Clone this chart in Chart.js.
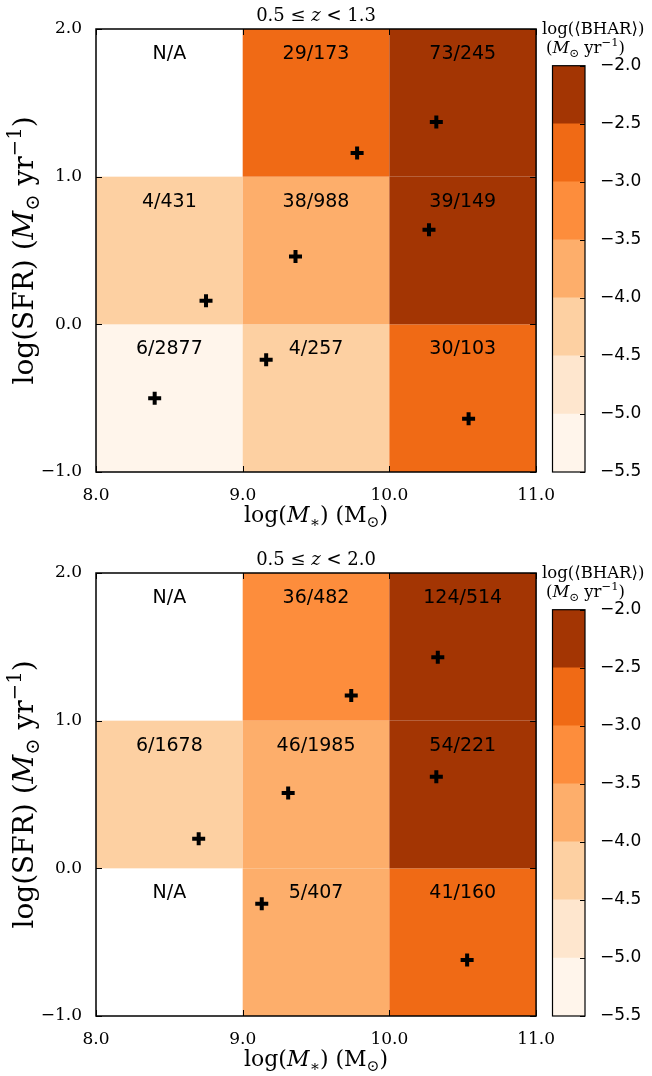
<!DOCTYPE html>
<html>
<head>
<meta charset="utf-8">
<script src="https://cdn.jsdelivr.net/npm/chart.js@4/dist/chart.umd.min.js"></script>
<style>
  html, body { margin: 0; padding: 0; background: #fff; }
  #wrap { position: relative; width: 652px; height: 1076px; }
  .panel { position: absolute; left: 0; width: 652px; height: 532px; }
  .panel canvas { position: absolute; top: 0; }
</style>
</head>
<body>
<div id="wrap">
  <div class="panel" style="top:0px">
    <canvas id="mainLow" width="560" height="532" style="left:0px"></canvas>
    <canvas id="cbLow" width="114" height="532" style="left:538px"></canvas>
  </div>
  <div class="panel" style="top:544px">
    <canvas id="mainAll" width="560" height="532" style="left:0px"></canvas>
    <canvas id="cbAll" width="114" height="532" style="left:538px"></canvas>
  </div>
</div>
<script>
// bin edges (log M*, log SFR) and colour levels of log<BHAR>
const massEdges = [8, 9, 10, 11];
const sfrEdges = [-1, 0, 1, 2];
const bharLevels = [-5.5, -5.0, -4.5, -4.0, -3.5, -3.0, -2.5, -2.0];
const levelColors = ['#fff5eb', '#fee6ce', '#fdd0a2', '#fdae6b', '#fd8d3c', '#f06a15', '#a33503'];

// 0.5 <= z < 1.3 ; rows go from low SFR (bottom) to high SFR (top)
const bharLowZ = [
  [-5.25, -4.25, -2.75],
  [-4.25, -3.75, -2.25],
  [null, -2.75, -2.25]
];
const countsLowZ = [
  ['6/2877', '4/257', '30/103'],
  ['4/431', '38/988', '39/149'],
  ['N/A', '29/173', '73/245']
];
const massLowZ = [8.40, 8.75, 9.16, 9.36, 9.78, 10.27, 10.32, 10.54];
const sfrLowZ = [-0.50, 0.16, -0.24, 0.46, 1.16, 0.64, 1.37, -0.64];

// 0.5 <= z < 2.0
const bharAllZ = [
  [null, -3.75, -2.75],
  [-4.25, -3.75, -2.25],
  [null, -3.25, -2.25]
];
const countsAllZ = [
  ['N/A', '5/407', '41/160'],
  ['6/1678', '46/1985', '54/221'],
  ['N/A', '36/482', '124/514']
];
const massAllZ = [8.70, 9.13, 9.31, 9.74, 10.32, 10.33, 10.53];
const sfrAllZ = [0.20, -0.24, 0.51, 1.17, 0.62, 1.43, -0.62];

const SERIF = '"DejaVu Serif", "Liberation Serif", serif';
const SANS = '"DejaVu Sans", sans-serif';

const fmt = v => Number(v).toFixed(1).replace('-', '\u2212');

function colorFor(v) {
  for (let i = 0; i < levelColors.length; i++) {
    if (v >= bharLevels[i] && v < bharLevels[i + 1]) return levelColors[i];
  }
  return levelColors[levelColors.length - 1];
}

// text with italic / sub / sup pieces
function drawRich(ctx, parts, x, y, size, align) {
  let total = 0;
  const items = parts.map(([t, s]) => {
    const fs = (s === 'sub' || s === 'sup') ? size * 0.7 : size;
    const font = (s === 'i' ? 'italic ' : '') + fs + 'px ' + SERIF;
    ctx.font = font;
    const w = ctx.measureText(t).width;
    total += w;
    return { t, s, font, w };
  });
  let cx = align === 'center' ? x - total / 2 : x;
  ctx.textAlign = 'left';
  ctx.textBaseline = 'alphabetic';
  ctx.fillStyle = '#000';
  items.forEach(it => {
    ctx.font = it.font;
    const dy = it.s === 'sub' ? size * 0.22 : it.s === 'sup' ? -size * 0.42 : 0;
    ctx.fillText(it.t, cx, y + dy);
    cx += it.w;
  });
}

const xLabel = [['log(', ''], ['M', 'i'], ['\u2217', 'sub'], [') (M', ''], ['\u2299', 'sub'], [')', '']];
const yLabel = [['log(SFR) (', ''], ['M', 'i'], ['\u2299', 'sub'], [' yr', ''], ['\u22121', 'sup'], [')', '']];
const cbLine1 = [['log(\u27e8BHAR\u27e9)', '']];
const cbLine2 = [['(', ''], ['M', 'i'], ['\u2299', 'sub'], [' yr', ''], ['\u22121', 'sup'], [')', '']];

const heatPlugin = {
  id: 'heat',
  beforeDatasetsDraw(chart, args, opts) {
    const { ctx, scales: { x, y } } = chart;
    ctx.save();
    opts.bhar.forEach((row, i) => {
      row.forEach((v, j) => {
        if (v === null) return;
        const x0 = x.getPixelForValue(massEdges[j]);
        const x1 = x.getPixelForValue(massEdges[j + 1]);
        const y0 = y.getPixelForValue(sfrEdges[i + 1]);
        const y1 = y.getPixelForValue(sfrEdges[i]);
        ctx.fillStyle = colorFor(v);
        ctx.fillRect(x0, y0, x1 - x0, y1 - y0);
      });
    });
    ctx.fillStyle = '#000';
    ctx.font = '19px ' + SANS;
    ctx.textAlign = 'center';
    ctx.textBaseline = 'middle';
    opts.counts.forEach((row, i) => {
      row.forEach((txt, j) => {
        const cx = x.getPixelForValue((massEdges[j] + massEdges[j + 1]) / 2);
        const cy = y.getPixelForValue(sfrEdges[i + 1] - 0.17);
        ctx.fillText(txt, cx, cy);
      });
    });
    ctx.restore();
  },
  afterDraw(chart, args, opts) {
    const { ctx, chartArea: a, scales: { x, y } } = chart;
    ctx.save();
    ctx.strokeStyle = '#000';
    ctx.lineWidth = 1;
    ctx.beginPath();
    x.ticks.forEach(t => {
      const px = Math.round(x.getPixelForValue(t.value)) + 0.5;
      ctx.moveTo(px, a.bottom); ctx.lineTo(px, a.bottom - 6);
      ctx.moveTo(px, a.top); ctx.lineTo(px, a.top + 6);
    });
    y.ticks.forEach(t => {
      const py = Math.round(y.getPixelForValue(t.value)) + 0.5;
      ctx.moveTo(a.left, py); ctx.lineTo(a.left + 6, py);
      ctx.moveTo(a.right, py); ctx.lineTo(a.right - 6, py);
    });
    ctx.stroke();
    ctx.lineWidth = 1.5;
    ctx.strokeRect(a.left, a.top, a.right - a.left, a.bottom - a.top);
    const mid = (a.left + a.right) / 2;
    drawRich(ctx, opts.title, mid, a.top - 8, 18, 'center');
    drawRich(ctx, xLabel, mid, a.bottom + 50, 22, 'center');
    ctx.translate(33, (a.top + a.bottom) / 2);
    ctx.rotate(-Math.PI / 2);
    drawRich(ctx, yLabel, 0, 0, 28, 'center');
    ctx.restore();
  }
};

const cbPlugin = {
  id: 'cbFrame',
  afterDraw(chart) {
    const { ctx, chartArea: a, scales: { y } } = chart;
    ctx.save();
    ctx.strokeStyle = '#000';
    ctx.lineWidth = 1;
    ctx.beginPath();
    y.ticks.forEach(t => {
      const py = Math.round(y.getPixelForValue(t.value)) + 0.5;
      ctx.moveTo(a.right, py); ctx.lineTo(a.right - 5, py);
    });
    ctx.stroke();
    ctx.lineWidth = 1.2;
    ctx.strokeRect(a.left, a.top, a.right - a.left, a.bottom - a.top);
    drawRich(ctx, cbLine1, 4, 34, 16.5, 'left');
    drawRich(ctx, cbLine2, 8, 53, 16.5, 'left');
    ctx.restore();
  }
};

function makeHeat(id, title, bhar, counts, mass, sfr) {
  return new Chart(document.getElementById(id), {
    type: 'scatter',
    data: {
      datasets: [{
        data: mass.map((m, i) => ({ x: m, y: sfr[i] })),
        pointStyle: 'cross',
        radius: 6.5,
        borderWidth: 4,
        borderColor: '#000',
        backgroundColor: '#000'
      }]
    },
    options: {
      responsive: false,
      animation: false,
      layout: { padding: { left: 0, right: 21, top: 29, bottom: 0 } },
      plugins: {
        legend: { display: false },
        tooltip: { enabled: false },
        heat: { bhar, counts, title }
      },
      scales: {
        x: {
          type: 'linear', min: 8, max: 11,
          grid: { display: false },
          border: { display: false },
          ticks: { stepSize: 1, color: '#000', padding: 5, maxRotation: 0, font: { family: SERIF, size: 17 }, callback: fmt },
          afterFit: s => { s.height = 60; }
        },
        y: {
          type: 'linear', min: -1, max: 2,
          grid: { display: false },
          border: { display: false },
          ticks: { stepSize: 1, color: '#000', padding: 6, font: { family: SERIF, size: 17 }, callback: fmt },
          afterFit: s => { s.width = 96; }
        }
      }
    },
    plugins: [heatPlugin]
  });
}

function makeColorbar(id) {
  return new Chart(document.getElementById(id), {
    type: 'bar',
    data: {
      labels: [''],
      datasets: levelColors.map((c, i) => ({
        data: [[bharLevels[i], bharLevels[i + 1]]],
        backgroundColor: c,
        borderWidth: 0,
        barPercentage: 1,
        categoryPercentage: 1
      }))
    },
    options: {
      responsive: false,
      animation: false,
      layout: { padding: { left: 14.5, right: 0, top: 65.7, bottom: 60 } },
      plugins: { legend: { display: false }, tooltip: { enabled: false } },
      scales: {
        x: { display: false, stacked: true },
        y: {
          position: 'right', min: -5.5, max: -2.0,
          grid: { display: false },
          border: { display: false },
          ticks: { stepSize: 0.5, color: '#000', padding: 7, font: { family: SANS, size: 17 }, callback: fmt },
          afterFit: s => { s.width = 67; }
        }
      }
    },
    plugins: [cbPlugin]
  });
}

const titleLowZ = [['0.5 \u2264 ', ''], ['z', 'i'], [' < 1.3', '']];
const titleAllZ = [['0.5 \u2264 ', ''], ['z', 'i'], [' < 2.0', '']];

makeHeat('mainLow', titleLowZ, bharLowZ, countsLowZ, massLowZ, sfrLowZ);
makeColorbar('cbLow');
makeHeat('mainAll', titleAllZ, bharAllZ, countsAllZ, massAllZ, sfrAllZ);
makeColorbar('cbAll');
</script>
</body>
</html>
